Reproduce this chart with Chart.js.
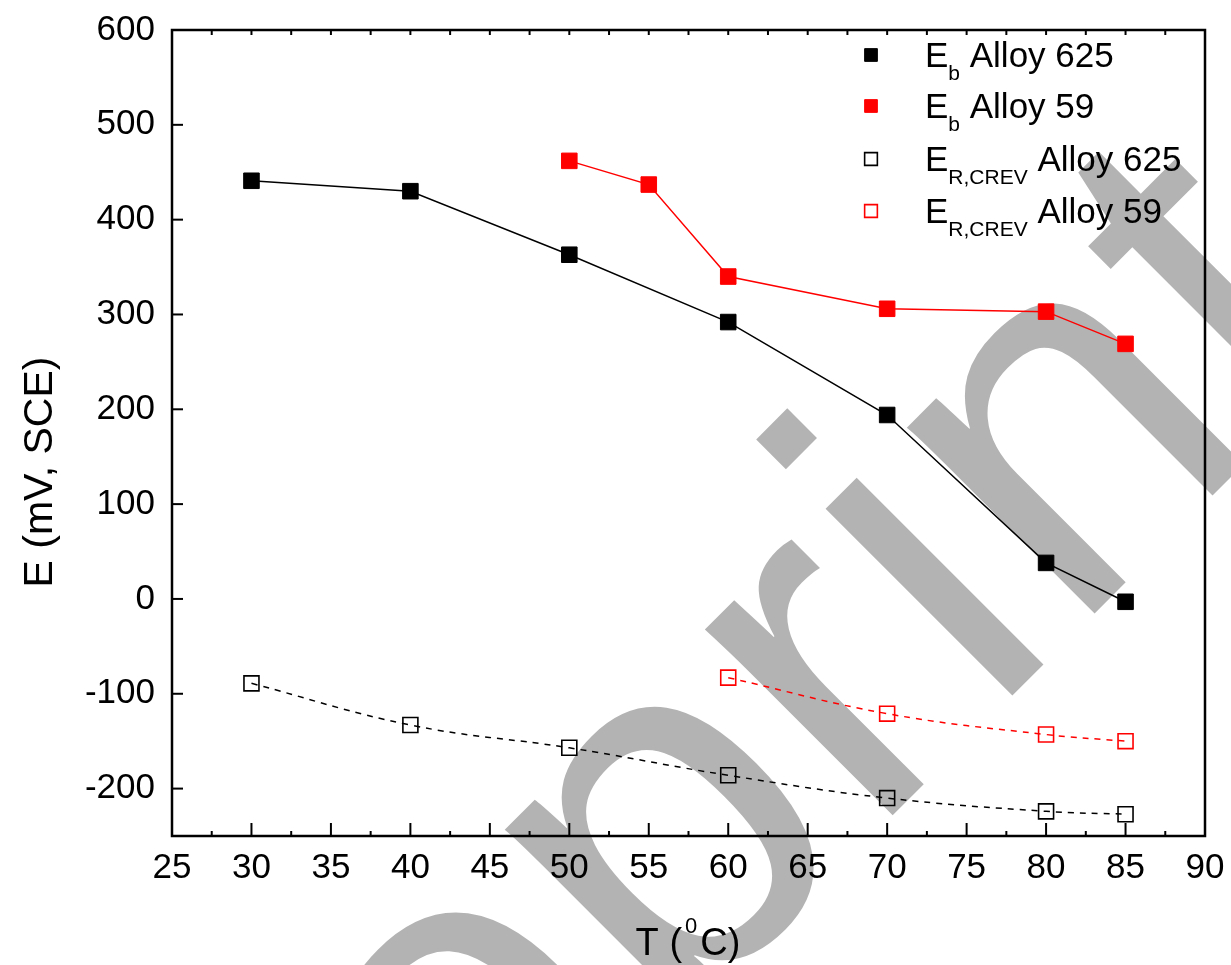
<!DOCTYPE html>
<html lang="en">
<head>
<meta charset="UTF-8">
<title>E vs T</title>
<style>
    body {
        margin: 0;
        padding: 0;
        background: #fff;
    }
    #wrap {
        width: 1231px;
        height: 965px;
    }
</style>
</head>
<body>
<div id="wrap"><canvas id="c" width="1231" height="965"></canvas></div>

<script src="https://cdn.jsdelivr.net/npm/chart.js@4.4.0/dist/chart.umd.min.js"></script>
<script>
// data
const temps625 = [30, 40, 50, 60, 70, 80, 85];
const tempsEb59 = [50, 55, 60, 70, 80, 85];
const tempsEr59 = [60, 70, 80, 85];
const eb625 = [441, 430, 363, 292, 194, 38, -3];
const eb59 = [462, 437, 340, 306, 303, 269];
const er625 = [-89, -133, -157, -186, -210, -224, -227];
const er59 = [-83, -121, -143, -150];

const xTicks = [25, 30, 35, 40, 45, 50, 55, 60, 65, 70, 75, 80, 85, 90];
const yTicks = [-200, -100, 0, 100, 200, 300, 400, 500, 600];

const legendSub = ['b', 'b', 'R,CREV', 'R,CREV'];
const legendRest = ['Alloy 625', 'Alloy 59', 'Alloy 625', 'Alloy 59'];

const FAMILY = '"Liberation Sans", Arial, sans-serif';
const font = (s) => s + 'px ' + FAMILY;

function pts(xs, ys) {
    return xs.map(function(x, i) { return {x: x, y: ys[i]}; });
}

function line(ctx, x1, y1, x2, y2) {
    ctx.beginPath();
    ctx.moveTo(x1, y1);
    ctx.lineTo(x2, y2);
    ctx.stroke();
}

const paper = {
    id: 'paper',
    beforeDraw(chart) {
        const ctx = chart.ctx;
        ctx.save();
        ctx.fillStyle = '#fff';
        ctx.fillRect(0, 0, chart.width, chart.height);

        // grey watermark under everything
        ctx.font = font(500);
        ctx.letterSpacing = '4px';
        const off = ctx.measureText('Prepr').width + ctx.measureText('i').width / 2 - 2;
        ctx.translate(1028, 680);
        ctx.rotate(-Math.PI / 4);
        ctx.fillStyle = '#b3b3b3';
        ctx.textBaseline = 'alphabetic';
        ctx.fillText('Preprint', -off, 0);
        ctx.letterSpacing = '0px';
        ctx.restore();
    },
    afterDraw(chart) {
        const ctx = chart.ctx;
        const {left, right, top, bottom} = chart.chartArea;
        const xs = chart.scales.x, ys = chart.scales.y;
        ctx.save();
        ctx.strokeStyle = '#000';

        // inward ticks
        ctx.lineWidth = 2;
        for (let v = 25; v <= 90; v += 2.5) {
            const px = xs.getPixelForValue(v);
            const major = v % 5 === 0;
            line(ctx, px, bottom, px, bottom - (major ? 13 : 5));
            line(ctx, px, top, px, top + 5);
        }
        yTicks.forEach(function(v) {
            const py = ys.getPixelForValue(v);
            line(ctx, left, py, left + 11, py);
        });

        ctx.lineWidth = 2.5;
        ctx.strokeRect(left, top, right - left, bottom - top);

        // legend with subscripts
        const rowsY = [55, 106, 159, 211];
        chart.data.datasets.forEach(function(ds, i) {
            const y = rowsY[i];
            ctx.fillStyle = ds.pointBackgroundColor;
            ctx.strokeStyle = ds.pointBorderColor;
            ctx.lineWidth = ds.pointBorderWidth;
            Chart.helpers.drawPoint(ctx, {pointStyle: 'rect', radius: 9, borderWidth: ds.pointBorderWidth, rotation: 0}, 871, y);

            ctx.fillStyle = '#000';
            ctx.textAlign = 'left';
            ctx.textBaseline = 'alphabetic';
            let x = 925;
            ctx.font = font(35);
            ctx.fillText('E', x, y + 12);
            x += ctx.measureText('E').width;
            ctx.font = font(21);
            ctx.fillText(legendSub[i], x, y + 25);
            x += ctx.measureText(legendSub[i]).width;
            ctx.font = font(35);
            ctx.fillText(' ' + legendRest[i], x, y + 12);
        });

        // axis titles
        ctx.fillStyle = '#000';
        ctx.textBaseline = 'alphabetic';
        ctx.textAlign = 'left';
        const a = 'T (', c = 'C)';
        ctx.font = font(22);
        const wSup = ctx.measureText('0').width;
        ctx.font = font(38);
        const wA = ctx.measureText(a).width, wC = ctx.measureText(c).width;
        let tx = 688 - (wA + wSup + wC + 6) / 2;
        ctx.fillText(a, tx, 955);
        tx += wA + 3;
        ctx.font = font(22);
        ctx.fillText('0', tx, 933);
        tx += wSup + 3;
        ctx.font = font(38);
        ctx.fillText(c, tx, 955);

        ctx.translate(52, 472);
        ctx.rotate(-Math.PI / 2);
        ctx.textAlign = 'center';
        ctx.font = font(41);
        ctx.fillText('E (mV, SCE)', 0, 0);
        ctx.restore();
    }
};

const tickFont = {family: FAMILY, size: 35};

new Chart(document.getElementById('c'), {
    type: 'scatter',
    data: {
        datasets: [
            {
                label: 'Eb Alloy 625',
                data: pts(temps625, eb625),
                showLine: true,
                borderColor: '#000',
                borderWidth: 1.5,
                pointStyle: 'rect',
                pointRadius: 11,
                pointBackgroundColor: '#000',
                pointBorderColor: '#000',
                pointBorderWidth: 1
            },
            {
                label: 'Eb Alloy 59',
                data: pts(tempsEb59, eb59),
                showLine: true,
                borderColor: '#ff0000',
                borderWidth: 1.5,
                pointStyle: 'rect',
                pointRadius: 11,
                pointBackgroundColor: '#ff0000',
                pointBorderColor: '#ff0000',
                pointBorderWidth: 1
            },
            {
                label: 'ER,CREV Alloy 625',
                data: pts(temps625, er625),
                showLine: true,
                tension: 0.4,
                borderColor: '#000',
                borderWidth: 1.5,
                borderDash: [6, 6],
                pointStyle: 'rect',
                pointRadius: 10.6,
                pointBackgroundColor: 'rgba(0,0,0,0)',
                pointBorderColor: '#000',
                pointBorderWidth: 1.6
            },
            {
                label: 'ER,CREV Alloy 59',
                data: pts(tempsEr59, er59),
                showLine: true,
                tension: 0.4,
                borderColor: '#ff0000',
                borderWidth: 1.5,
                borderDash: [6, 6],
                pointStyle: 'rect',
                pointRadius: 10.6,
                pointBackgroundColor: 'rgba(0,0,0,0)',
                pointBorderColor: '#ff0000',
                pointBorderWidth: 1.6
            }
        ]
    },
    options: {
        responsive: false,
        animation: false,
        events: [],
        layout: {padding: {top: 30, right: 26, left: 0, bottom: 0}},
        plugins: {
            legend: {display: false},
            tooltip: {enabled: false}
        },
        scales: {
            x: {
                type: 'linear',
                min: 25,
                max: 90,
                afterBuildTicks: function(s) { s.ticks = xTicks.map(function(v) { return {value: v}; }); },
                afterFit: function(s) {
                    s.height = 129;
                    s.paddingLeft = 0;
                    s.paddingRight = 0;
                },
                grid: {display: false, drawTicks: false},
                border: {display: false},
                ticks: {color: '#000', font: tickFont, padding: 11, maxRotation: 0, autoSkip: false}
            },
            y: {
                type: 'linear',
                min: -250,
                max: 600,
                afterBuildTicks: function(s) { s.ticks = yTicks.map(function(v) { return {value: v}; }); },
                afterFit: function(s) {
                    s.width = 172;
                    s.paddingTop = 0;
                    s.paddingBottom = 0;
                },
                grid: {display: false, drawTicks: false},
                border: {display: false},
                ticks: {color: '#000', font: tickFont, padding: 17, autoSkip: false}
            }
        }
    },
    plugins: [paper]
});
</script>
</body>
</html>
